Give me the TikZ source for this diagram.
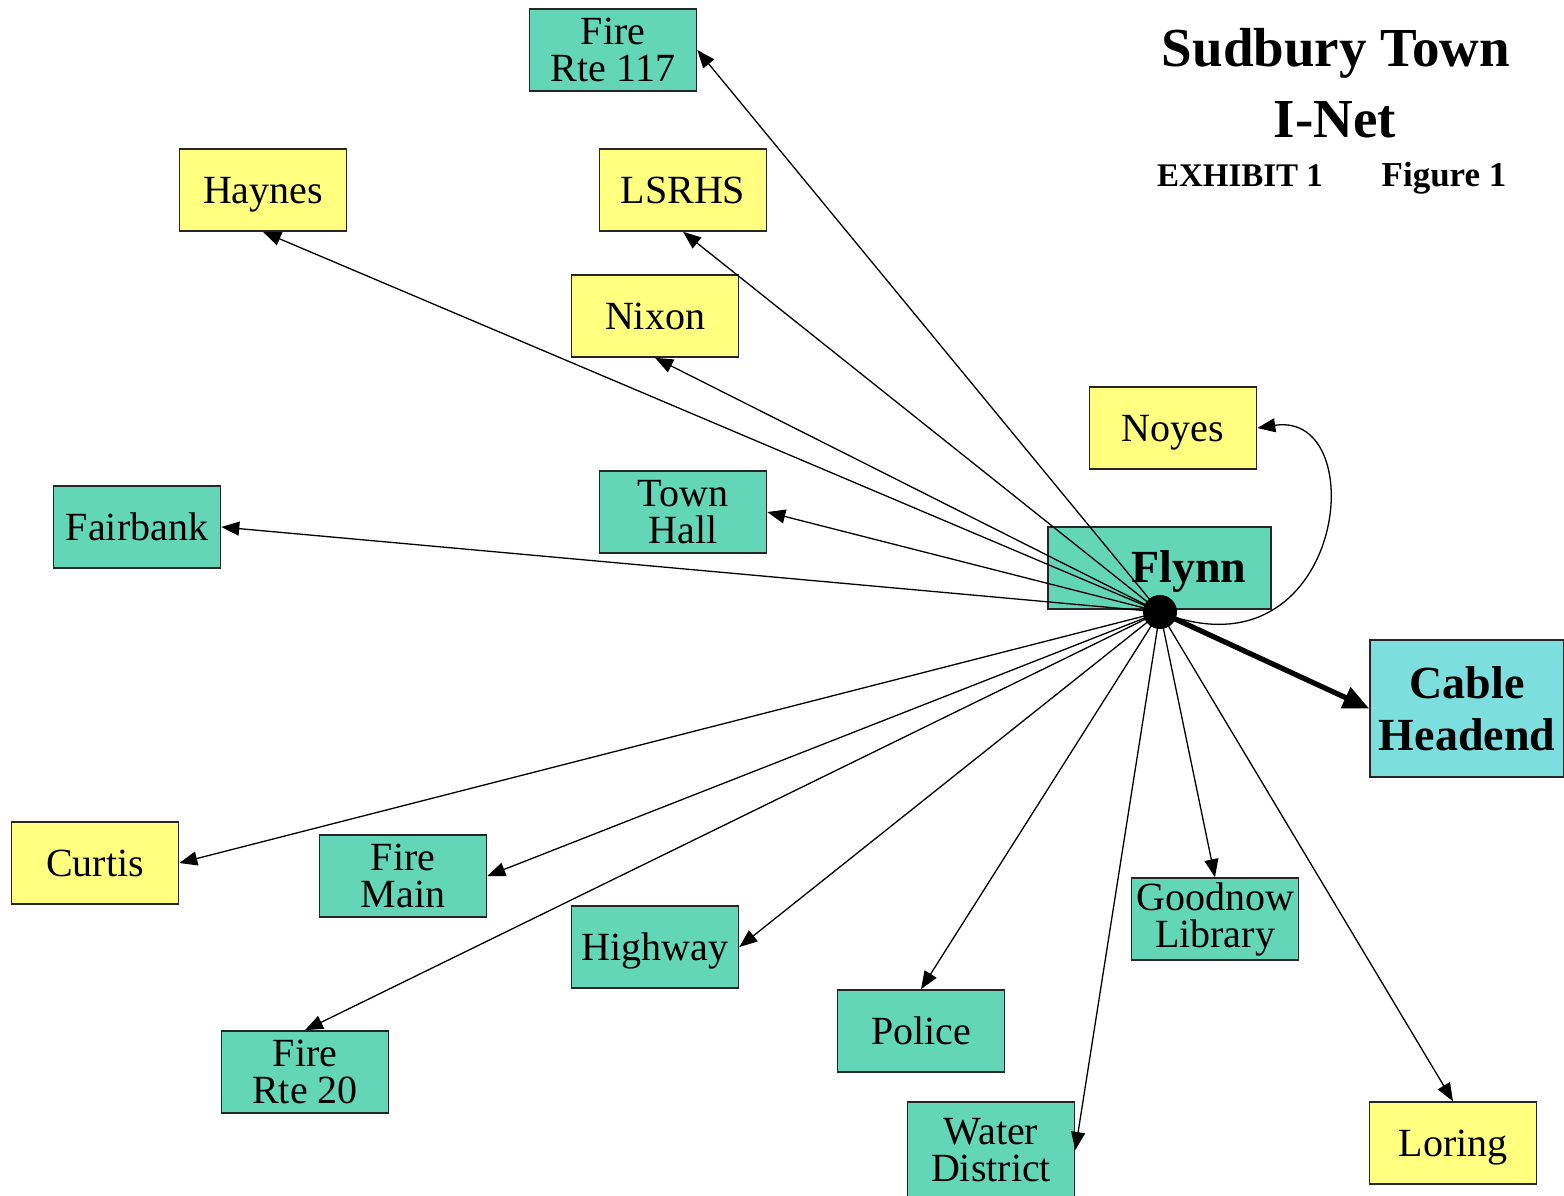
\documentclass[tikz,border=0pt]{standalone}
\usepackage{fontspec}
\setmainfont{Liberation Serif}
\usetikzlibrary{arrows.meta}
\definecolor{tealbox}{RGB}{100,214,184}
\definecolor{cyanbox}{RGB}{125,222,222}
\definecolor{yellowbox}{RGB}{255,255,128}
\tikzset{
  box/.style={draw=black!85, line width=0.8pt, minimum width=83.5pt, minimum height=41pt, inner sep=0pt, align=center, font=\fontsize{20}{18.5}\selectfont},
  tealb/.style={box, fill=tealbox},
  yellb/.style={box, fill=yellowbox},
  oneline/.style={text height=15pt, text depth=1.8pt},
  link/.style={line width=0.65pt, -{Triangle[length=9pt,width=7pt]}},
  biglink/.style={line width=2.6pt, -{Triangle[length=13pt,width=11pt]}},
  titlef/.style={font=\fontsize{27.5}{30}\selectfont\bfseries, inner sep=0pt},
  subf/.style={font=\fontsize{16.5}{18}\selectfont\bfseries, inner sep=0pt, anchor=base},
}
\begin{document}
\begin{tikzpicture}[x=0.5pt,y=-0.5pt]
\useasboundingbox (0,0) rectangle (1564,1195);
\clip (0,0) rectangle (1564,1195);
% title
\node[titlef] (t1) at (1336,53) {Sudbury Town};
\node[titlef] (t2) at (1335,120) {I-Net};
\node[subf] (t3a) at (1240,186) {EXHIBIT 1};
\node[subf, font=\fontsize{17.5}{18}\selectfont\bfseries] (t3b) at (1444,186) {Figure 1};
% boxes
\node[tealb] (fr117) at (613,50) {Fire\\Rte 117};
\node[yellb, oneline] (haynes) at (263,190) {Haynes};
\node[yellb, oneline] (lsrhs) at (683,190) {LSRHS};
\node[yellb, oneline] (nixon) at (655,316) {Nixon};
\node[yellb, oneline] (noyes) at (1173,428) {Noyes};
\node[tealb] (townhall) at (683,512) {Town\\Hall};
\node[tealb, oneline] (fairbank) at (137,527) {Fairbank};
\node[tealb, minimum width=111.5pt] (flynn) at (1159.5,568) {};
\node[font=\fontsize{23}{25}\selectfont\bfseries, inner sep=0pt] (flynnlbl) at (1189,571) {Flynn};
\node[box, fill=cyanbox, minimum width=97pt, minimum height=68.5pt, font=\fontsize{23}{26}\selectfont\bfseries] (cable) at (1467,708.5) {Cable\\Headend};
\node[yellb, oneline] (curtis) at (95,863) {Curtis};
\node[tealb] (firemain) at (403,876) {Fire\\Main};
\node[tealb, oneline] (highway) at (655,947) {Highway};
\node[tealb] (goodnow) at (1215,919) {Goodnow\\Library};
\node[tealb, oneline] (police) at (921,1031) {Police};
\node[tealb] (fr20) at (305,1072) {Fire\\Rte 20};
\node[tealb, minimum height=48pt] (water) at (991,1150) {Water\\District};
\node[yellb, oneline] (loring) at (1453,1143) {Loring};
% hub
\coordinate (hub) at (1160,612);
% connectors
\draw[link] (hub) -- (fr117.east);
\draw[link] (hub) -- (haynes.south);
\draw[link] (hub) -- (lsrhs.south);
\draw[link] (hub) -- (nixon.south);
\draw[link] (hub) -- (townhall.east);
\draw[link] (hub) -- (fairbank.east);
\draw[link] (hub) -- (curtis.east);
\draw[link] (hub) -- (firemain.east);
\draw[link] (hub) -- (highway.east);
\draw[link] (hub) -- (fr20.north);
\draw[link] (hub) -- (police.north);
\draw[link] (hub) -- (water.east);
\draw[link] (hub) -- (goodnow.north);
\draw[link] (hub) -- (loring.north);
\draw[link] (hub) .. controls (1345,685) and (1375,410) .. (noyes.east);
\draw[biglink] (hub) -- (cable.west);
\fill[black] (hub) circle (17);
\end{tikzpicture}
\end{document}
